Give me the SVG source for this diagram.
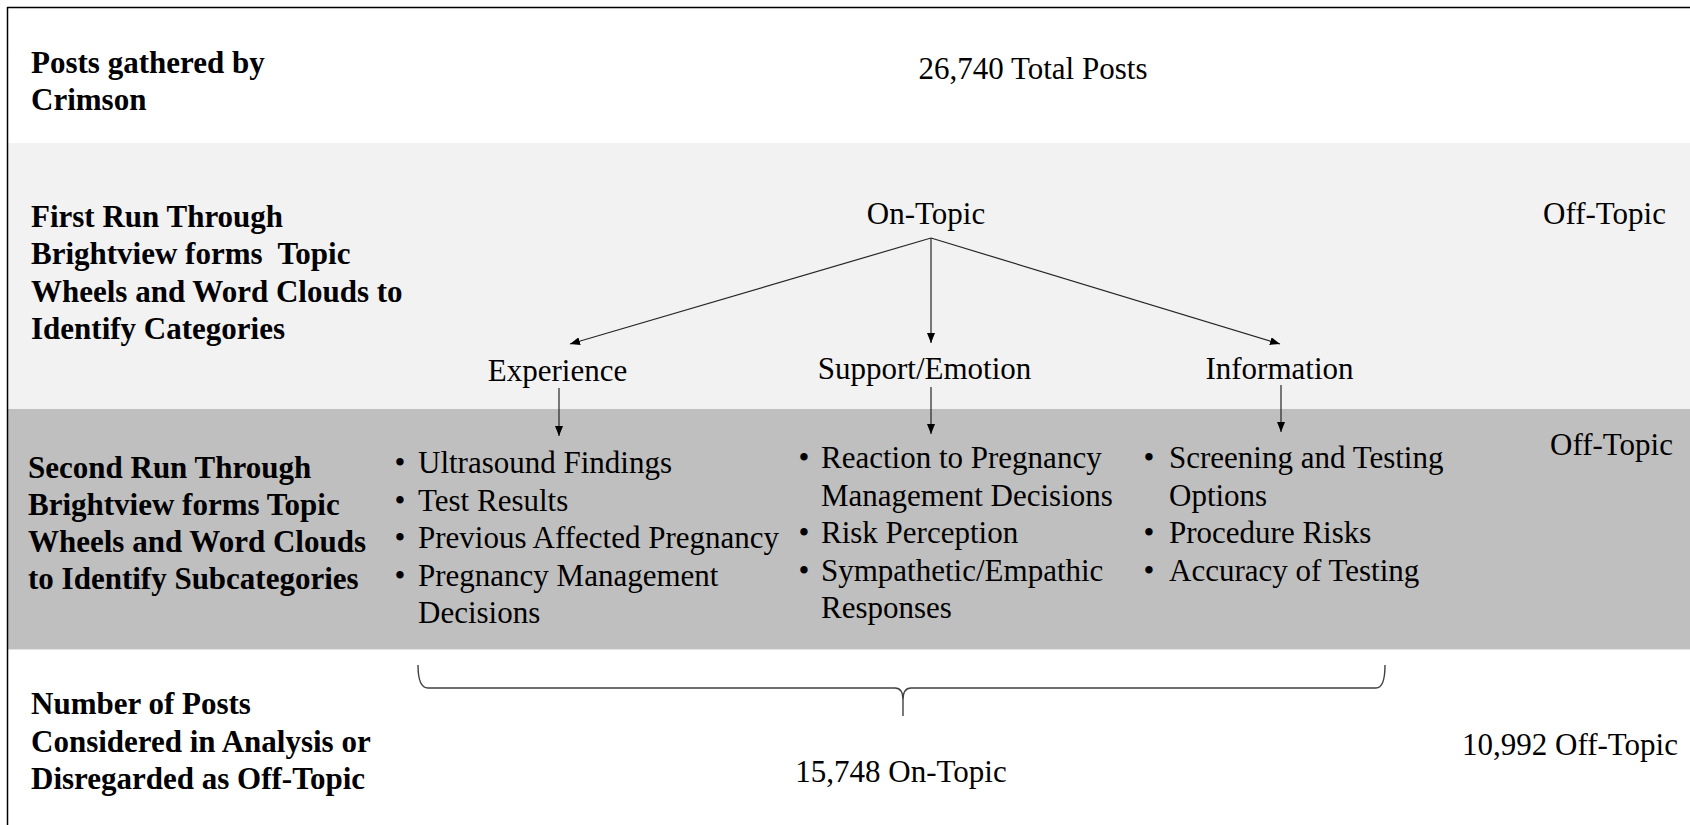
<svg xmlns="http://www.w3.org/2000/svg" width="1690" height="825" viewBox="0 0 1690 825">
<style>
text{font-family:"Liberation Serif","Times New Roman",serif;font-size:31px;fill:#000}
.b{font-weight:bold}
.m{text-anchor:middle}
.c{fill:none;stroke:#262626;stroke-width:1.2}
.br{fill:none;stroke:#404040;stroke-width:1.4}
</style>
<defs>
<marker id="ah" markerUnits="userSpaceOnUse" markerWidth="10" markerHeight="8" refX="10" refY="4" orient="auto">
<path d="M0,0 L10,4 L0,8 z" fill="#000"/>
</marker>
</defs>
<rect x="0" y="0" width="1690" height="825" fill="#fff"/>
<g id="bands">
<rect x="8" y="143" width="1682" height="266" fill="#f2f2f2"/>
<rect x="8" y="409" width="1682" height="240" fill="#bfbfbf"/>
<line x1="8" y1="649.5" x2="1690" y2="649.5" stroke="#e3e3e3" stroke-width="1"/>
</g>
<g id="frame">
<line x1="7" y1="7.5" x2="1690" y2="7.5" stroke="#000" stroke-width="1.5"/>
<line x1="7.5" y1="7" x2="7.5" y2="825" stroke="#000" stroke-width="1.5"/>
</g>
<g id="row-labels">
<text class="b" x="31" y="72.5">Posts gathered by</text>
<text class="b" x="31" y="109.5">Crimson</text>
<text class="b" x="31" y="226.5">First Run Through</text>
<text class="b" x="31" y="264" xml:space="preserve">Brightview forms  Topic</text>
<text class="b" x="31" y="301.5">Wheels and Word Clouds to</text>
<text class="b" x="31" y="339">Identify Categories</text>
<text class="b" x="28" y="478">Second Run Through</text>
<text class="b" x="28" y="515">Brightview forms Topic</text>
<text class="b" x="28" y="552">Wheels and Word Clouds</text>
<text class="b" x="28" y="589">to Identify Subcategories</text>
<text class="b" x="31" y="714">Number of Posts</text>
<text class="b" x="31" y="751.5">Considered in Analysis or</text>
<text class="b" x="31" y="789">Disregarded as Off-Topic</text>
</g>
<g id="total"><text class="m" x="1033" y="79">26,740 Total Posts</text></g>
<g id="on-topic"><text class="m" x="926" y="224">On-Topic</text></g>
<g id="off-topic-1"><text x="1543" y="224">Off-Topic</text></g>
<g id="off-topic-2"><text x="1550" y="455">Off-Topic</text></g>
<g id="experience"><text class="m" x="557.5" y="381">Experience</text></g>
<g id="support"><text class="m" x="924.5" y="379">Support/Emotion</text></g>
<g id="information"><text class="m" x="1279.5" y="379">Information</text></g>
<g id="list-experience">
<text class="m" x="400" y="473">•</text><text x="418" y="473">Ultrasound Findings</text>
<text class="m" x="400" y="510.5">•</text><text x="418" y="510.5">Test Results</text>
<text class="m" x="400" y="548">•</text><text x="418" y="548">Previous Affected Pregnancy</text>
<text class="m" x="400" y="585.5">•</text><text x="418" y="585.5">Pregnancy Management</text>
<text x="418" y="623">Decisions</text>
</g>
<g id="list-support">
<text class="m" x="804" y="468">•</text><text x="821" y="468">Reaction to Pregnancy</text>
<text x="821" y="505.5">Management Decisions</text>
<text class="m" x="804" y="543">•</text><text x="821" y="543">Risk Perception</text>
<text class="m" x="804" y="580.5">•</text><text x="821" y="580.5">Sympathetic/Empathic</text>
<text x="821" y="618">Responses</text>
</g>
<g id="list-information">
<text class="m" x="1149" y="468">•</text><text x="1169" y="468">Screening and Testing</text>
<text x="1169" y="505.5">Options</text>
<text class="m" x="1149" y="543">•</text><text x="1169" y="543">Procedure Risks</text>
<text class="m" x="1149" y="580.5">•</text><text x="1169" y="580.5">Accuracy of Testing</text>
</g>
<g id="on-topic-count"><text class="m" x="901" y="782">15,748 On-Topic</text></g>
<g id="off-topic-count"><text x="1462" y="755">10,992 Off-Topic</text></g>
<g id="connectors">
<line class="c" x1="931" y1="238" x2="570" y2="344" marker-end="url(#ah)"/>
<line class="c" x1="931" y1="238" x2="931" y2="343" marker-end="url(#ah)"/>
<line class="c" x1="931" y1="238" x2="1280" y2="344" marker-end="url(#ah)"/>
<line class="c" x1="559" y1="388" x2="559" y2="436" marker-end="url(#ah)"/>
<line class="c" x1="931" y1="387" x2="931" y2="434" marker-end="url(#ah)"/>
<line class="c" x1="1281" y1="385" x2="1281" y2="432" marker-end="url(#ah)"/>
<path class="br" d="M418,665 Q418,688 428,688 L895,688 Q903,688 903,700 L903,716 M903,700 Q903,688 911,688 L1376,688 Q1385,688 1385,665"/>
</g>
</svg>
